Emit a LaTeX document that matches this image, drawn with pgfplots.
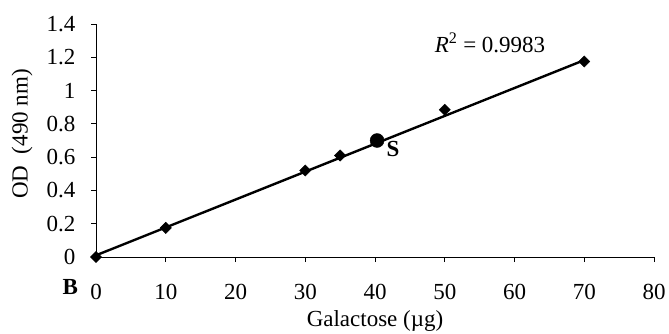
\documentclass[border=0pt]{standalone}
\usepackage{fontspec}
\setmainfont{Liberation Serif}
\usepackage{pgfplots}
\pgfplotsset{compat=1.18}
\begin{document}
\begin{tikzpicture}[x=1pt,y=1pt]
\useasboundingbox (0,0) rectangle (669,333);
\begin{axis}[
  at={(96pt,76pt)}, anchor=south west,
  scale only axis, width=558pt, height=233pt,
  xmin=0, xmax=80, ymin=0, ymax=1.4,
  axis x line*=bottom, axis y line*=left,
  axis line style={line width=0.9pt, -},
  tick align=outside, major tick length=5pt,
  tick style={line width=0.9pt, black},
  xtick={0,10,...,80}, ytick={0,0.2,...,1.4},
  yticklabels={0,0.2,0.4,0.6,0.8,1,1.2,1.4},
  /pgf/number format/assume math mode=true,
  ticklabel style={font=\fontsize{23}{26}\selectfont},
  xticklabel style={yshift=-19pt},
  yticklabel style={xshift=-12pt},
  clip=false,
]
\addplot[black, line width=2.4pt] coordinates {(0,0.010) (70,1.183)};
\addplot[only marks, mark=square*, mark size=4pt, mark options={rotate=45}, black] coordinates {
(0,0) (10,0.175) (30,0.52) (35,0.61) (50,0.885) (70,1.175)};
\addplot[only marks, mark=*, mark size=7pt, black] coordinates {(40.3,0.70)};
\node[font=\fontsize{23}{26}\selectfont\bfseries] at (axis cs:42.6,0.649) {S};
\node[font=\fontsize{23}{26}\selectfont] at (axis cs:56.5,1.286) {\textit{R}\textsuperscript{2} = 0.9983};
\node[font=\fontsize{23}{26}\selectfont\bfseries] at (axis cs:-3.7,-0.18) {B};
\node[font=\fontsize{23}{26}\selectfont, anchor=base] at ([yshift=-69pt]rel axis cs:0.5,0) {Galactose (µg)};
\node[font=\fontsize{23}{26}\selectfont, rotate=90] at ([xshift=-74pt]rel axis cs:0,0.528) {OD\ \ (490 nm)};
\end{axis}
\end{tikzpicture}
\end{document}
